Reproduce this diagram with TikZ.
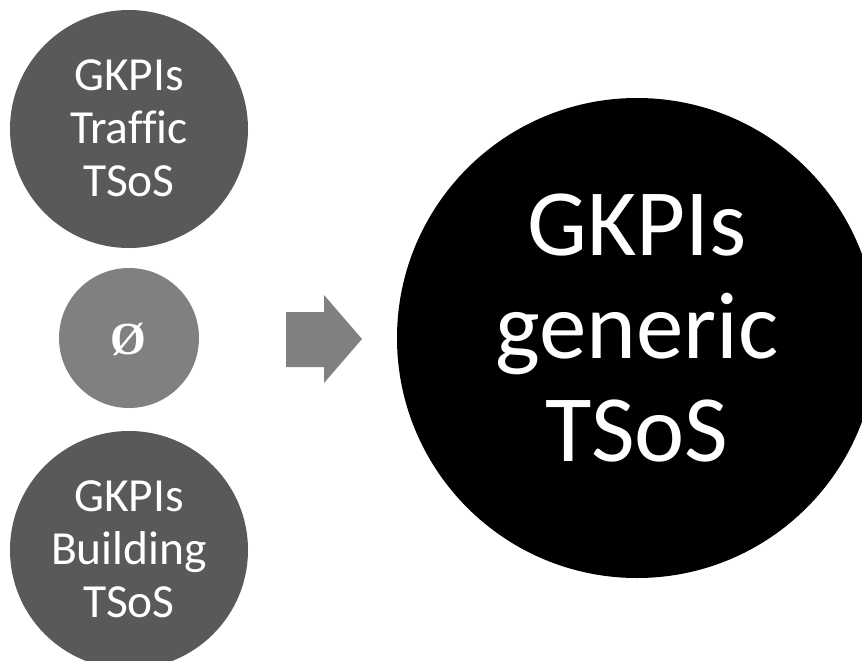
\documentclass[tikz,border=0pt]{standalone}
\usepackage{fontspec}
\setmainfont{Carlito}[Ligatures=CommonOff]
\newfontfamily\serifsym{Liberation Serif}
\definecolor{darkgr}{HTML}{595959}
\definecolor{midgr}{HTML}{808080}
\tikzset{
  disc/.style={circle, inner sep=0pt, draw=none},
  smalltext/.style={text=white, align=center, inner sep=0pt, font=\fontsize{47.5}{53}\selectfont},
  bigtext/.style={text=white, align=center, inner sep=0pt, font=\fontsize{95}{103}\selectfont}
}
\begin{document}
\begin{tikzpicture}[x=1pt,y=-1pt]
\useasboundingbox (0,0) rectangle (862,661);
\clip (0,0) rectangle (862,661);
% left column
\node[disc, fill=darkgr, minimum size=238pt] (traffic) at (129,129) {};
\node[smalltext] (traffictxt) at (129,128) {GKPIs\\Traffic\\TSoS};
\node[disc, fill=midgr, minimum size=140pt] (empty) at (129,338) {};
\node[text=white, inner sep=0pt, font=\serifsym\bfseries\fontsize{46}{46}\selectfont] (emptytxt) at (128,339) {Ø};
\node[disc, fill=darkgr, minimum size=238pt] (building) at (129,550) {};
\node[smalltext] (buildingtxt) at (129,549) {GKPIs\\Building\\TSoS};
% arrow
\coordinate (a1) at (286,312);
\coordinate (a2) at (324,312);
\coordinate (a3) at (324,295);
\coordinate (a4) at (362,339);
\coordinate (a5) at (324,383);
\coordinate (a6) at (324,367);
\coordinate (a7) at (286,367);
\fill[midgr] (a1) -- (a2) -- (a3) -- (a4) -- (a5) -- (a6) -- (a7) -- cycle;
% big circle
\node[disc, fill=black, minimum size=480pt] (generic) at (637,338) {};
\node[bigtext] (generictxt) at (637,328) {GKPIs\\generic\\TSoS};
\end{tikzpicture}
\end{document}
